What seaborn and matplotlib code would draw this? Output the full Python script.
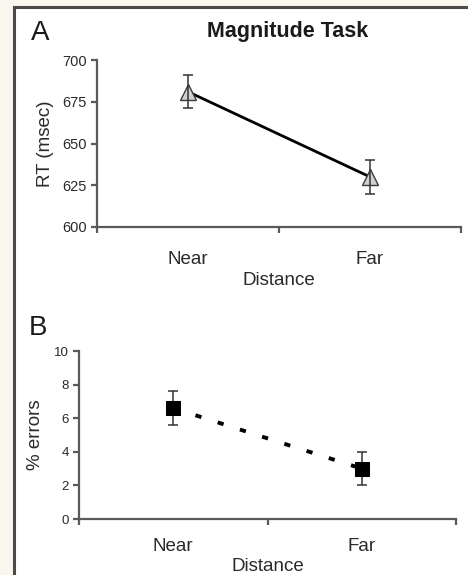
import numpy as np
import pandas as pd
import matplotlib
matplotlib.use("Agg")
import matplotlib.pyplot as plt
from matplotlib.patches import Rectangle
import seaborn as sns

# ---- data ----
categories = ["Near", "Far"]
rt_values = [681, 630]
rt_errors = [10, 10]
err_values = [6.6, 3.0]
err_errors = [1.0, 1.0]
rt_ticks = [600, 625, 650, 675, 700]
err_ticks = [0, 2, 4, 6, 8, 10]

sns.set_theme(style="white")
plt.rcParams['font.family'] = ['Liberation Sans', 'DejaVu Sans']

fig = plt.figure(figsize=(4.68, 5.75), dpi=100)
fig.patch.set_facecolor("#f8f6ef")
W, H = 468, 575
frame = Rectangle((14 / W, -0.1), 1.2, 1 - 7 / H + 0.1, transform=fig.transFigure,
                  facecolor="white", edgecolor="#4a4a4a", linewidth=2.2, zorder=-10)
fig.patches.append(frame)

axA = fig.add_axes([97 / W, 1 - 227 / H, (461 - 97) / W, (227 - 60) / H])
axB = fig.add_axes([79 / W, 1 - 519 / H, (456 - 79) / W, (519 - 351) / H])

axis_col = "#5a5a5a"
text_col = "#2a2a2a"


def style_axis(ax, yticks, ylabel, ticksize, xpad, ylabelpad, xlabelpad):
    ax.set_facecolor("none")
    for s in ["top", "right"]:
        ax.spines[s].set_visible(False)
    for s in ["left", "bottom"]:
        ax.spines[s].set_color(axis_col)
        ax.spines[s].set_linewidth(1.6)
    ax.set_xlim(-0.5, len(categories) - 0.5)
    ax.set_ylim(yticks[0], yticks[-1])
    ax.set_yticks(yticks)
    ax.set_yticklabels([str(t) for t in yticks], fontsize=ticksize, color=text_col)
    ax.set_xticks(np.arange(len(categories) + 1) - 0.5)
    ax.set_xticklabels([])
    ax.set_xticks(np.arange(len(categories)), minor=True)
    ax.set_xticklabels(categories, minor=True, fontsize=13.5, color=text_col)
    ax.tick_params(axis="x", which="major", direction="out", length=4, width=1.6,
                   color=axis_col, bottom=True)
    ax.tick_params(axis="x", which="minor", length=0, pad=xpad, bottom=True)
    ax.tick_params(axis="y", direction="out", length=4.5, width=1.6, color=axis_col,
                   pad=3, left=True)
    ax.set_ylabel(ylabel, fontsize=13.5, color=text_col, labelpad=ylabelpad)
    ax.set_xlabel("Distance", fontsize=13.5, color=text_col, labelpad=xlabelpad)
    ax.grid(False)


# ---- Panel A ----
dfA = pd.DataFrame({"Distance": categories, "RT": rt_values})
sns.lineplot(data=dfA, x="Distance", y="RT", ax=axA, sort=False, color="black",
             linewidth=2.0, marker="^", markersize=11, markerfacecolor="#d0d0d0",
             markeredgecolor="#3a3a3a", markeredgewidth=1.0, zorder=3)
axA.errorbar(np.arange(len(categories)), rt_values, yerr=rt_errors, fmt="none",
             ecolor="#333333", elinewidth=1.1, capsize=3.5, capthick=1.1, zorder=4)
style_axis(axA, rt_ticks, "RT (msec)", 10.5, 17, 6, 3)

# ---- Panel B ----
dfB = pd.DataFrame({"Distance": categories, "Errors": err_values})
sns.lineplot(data=dfB, x="Distance", y="Errors", ax=axB, sort=False, color="black",
             linewidth=2.8, linestyle=(0, (1.6, 4.4)), marker="s", markersize=9.5,
             markerfacecolor="black", markeredgecolor="black", zorder=3)
axB.errorbar(np.arange(len(categories)), err_values, yerr=err_errors, fmt="none",
             ecolor="#333333", elinewidth=1.1, capsize=3.5, capthick=1.1, zorder=2)
style_axis(axB, err_ticks, "% errors", 9.5, 14, 7, 1.5)

# ---- panel titles ----
fig.text(288 / W, 1 - 32 / H, "Magnitude Task", ha="center", va="center",
         fontsize=15.5, fontweight="bold", color="#1a1a1a")
fig.text(40 / W, 1 - 33 / H, "A", ha="center", va="center", fontsize=20, color="#1a1a1a")
fig.text(38 / W, 1 - 328 / H, "B", ha="center", va="center", fontsize=20, color="#1a1a1a")

fig.savefig("out.png", dpi=100, facecolor=fig.get_facecolor())
